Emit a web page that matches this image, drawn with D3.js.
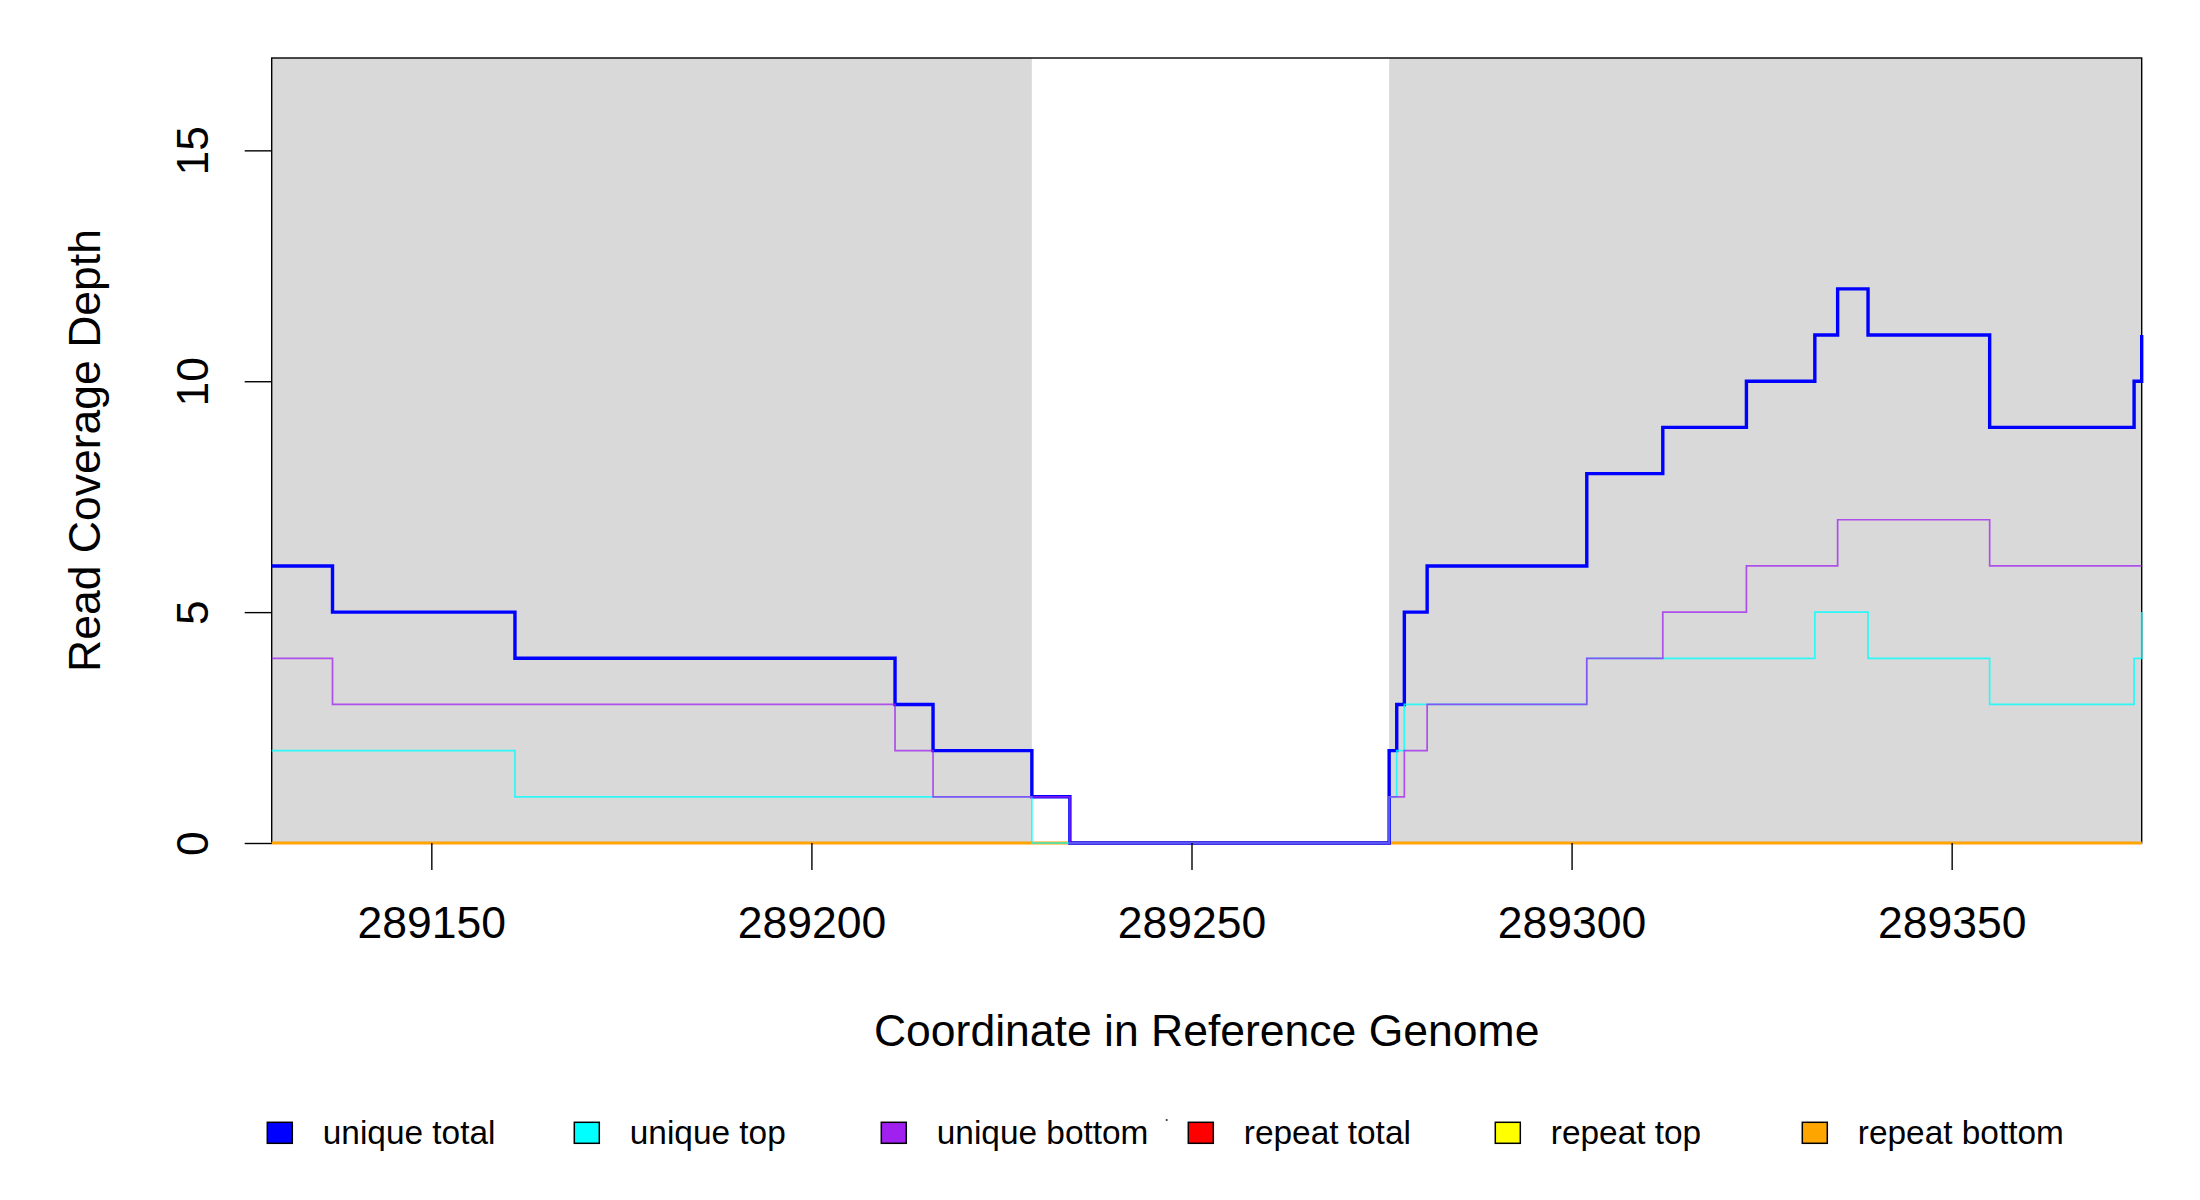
<!DOCTYPE html>
<html>
<head>
<meta charset="utf-8">
<script src="https://cdn.jsdelivr.net/npm/d3@7/dist/d3.min.js"></script>
<style>
  html, body { margin: 0; padding: 0; background: #ffffff; }
  svg { display: block; }
  text { font-family: "Liberation Sans", Arial, Helvetica, sans-serif; fill: #000; }
</style>
</head>
<body>
<svg id="chart" width="2200" height="1200"></svg>
<script>
// ---------------- data ----------------
// change points (genome coordinate) at which the step value changes
const positions   = [289129, 289137, 289161, 289211, 289216, 289229, 289234, 289276, 289277, 289278, 289281, 289302, 289312, 289323, 289332, 289335, 289339, 289355, 289374, 289375];
const uniqueTotal = [6, 5, 4, 3, 2, 1, 0, 2, 3, 5, 6, 8, 9, 10, 11, 12, 11, 9, 10, 11];
const uniqueTop   = [2, 2, 1, 1, 1, 0, 0, 1, 2, 3, 3, 4, 4, 4, 5, 5, 4, 3, 4, 5];
const uniqueBottom= [4, 3, 3, 2, 1, 1, 0, 1, 1, 2, 3, 4, 5, 6, 6, 7, 7, 6, 6, 6];
const repeatPositions = [289129, 289375];
const repeatTotal  = [0, 0];
const repeatTop    = [0, 0];
const repeatBottom = [0, 0];
// shaded (annotated) regions
const regionStarts = [289129, 289276];
const regionEnds   = [289229, 289375];
// axes
const xDomain = [289129, 289375];
const yDomain = [0, 17];
const xTicks = [289150, 289200, 289250, 289300, 289350];
const yTicks = [0, 5, 10, 15];
const xTitle = "Coordinate in Reference Genome";
const yTitle = "Read Coverage Depth";
const legendLabels = ["unique total", "unique top", "unique bottom", "repeat total", "repeat top", "repeat bottom"];
const legendColors = ["#0000FF", "#00FFFF", "#A020F0", "#FF0000", "#FFFF00", "#FFA500"];

// ---------------- layout ----------------
const plot = { left: 271.7, right: 2141.7, top: 58, bottom: 843 };
const svg = d3.select("#chart");
const x = d3.scaleLinear().domain(xDomain).range([plot.left, plot.right]);
const y = d3.scaleLinear().domain(yDomain).range([plot.bottom, plot.top]);

// shaded regions
svg.append("g").selectAll("rect")
  .data(regionStarts.map((s, i) => ({ s, e: regionEnds[i] })))
  .join("rect")
  .attr("x", d => x(d.s))
  .attr("width", d => x(d.e) - x(d.s))
  .attr("y", y(yDomain[1]))
  .attr("height", y(yDomain[0]) - y(yDomain[1]))
  .attr("fill", "#D9D9D9");

// box
svg.append("rect")
  .attr("x", plot.left).attr("y", plot.top)
  .attr("width", plot.right - plot.left).attr("height", plot.bottom - plot.top)
  .attr("fill", "none").attr("stroke", "#000").attr("stroke-width", 1.4);

// lines
const line = d3.line().x(d => x(d[0])).y(d => y(d[1])).curve(d3.curveStepAfter);
const series = [
  { pos: repeatPositions, vals: repeatTotal,  color: "#FF0000", w: 2.4, op: 0.7 },
  { pos: repeatPositions, vals: repeatTop,    color: "#FFFF00", w: 2.4, op: 0.7 },
  { pos: repeatPositions, vals: repeatBottom, color: "#FFA500", w: 2.4, op: 0.95 },
  { pos: positions, vals: uniqueTotal,  color: "#0000FF", w: 3.4, op: 1.0 },
  { pos: positions, vals: uniqueTop,    color: "#00FFFF", w: 1.7, op: 0.8 },
  { pos: positions, vals: uniqueBottom, color: "#A020F0", w: 1.7, op: 0.75 }
];
const gLines = svg.append("g");
series.forEach(s => {
  gLines.append("path")
    .datum(s.pos.map((p, i) => [p, s.vals[i]]))
    .attr("d", line)
    .attr("fill", "none")
    .attr("stroke", s.color)
    .attr("stroke-width", s.w)
    .attr("stroke-opacity", s.op)
    .attr("stroke-linejoin", "miter")
    .attr("stroke-linecap", "butt");
});

// x axis
const xAxis = svg.append("g")
  .attr("transform", `translate(0,${plot.bottom})`)
  .call(d3.axisBottom(x).tickValues(xTicks).tickSize(27).tickFormat(d3.format("d")));
xAxis.select(".domain").remove();
xAxis.selectAll(".tick line").attr("stroke", "#000").attr("stroke-width", 1.4);
xAxis.selectAll(".tick text")
  .attr("y", 95).attr("dy", 0)
  .style("font-size", "44.5px")
  .style("font-family", '"Liberation Sans", Arial, sans-serif')
  .attr("fill", "#000");

// y axis
const yAxis = svg.append("g")
  .attr("transform", `translate(${plot.left},0)`)
  .call(d3.axisLeft(y).tickValues(yTicks).tickSize(27).tickFormat(d3.format("d")));
yAxis.select(".domain").remove();
yAxis.selectAll(".tick line").attr("stroke", "#000").attr("stroke-width", 1.4);
yAxis.selectAll(".tick text")
  .attr("x", 0).attr("y", 0).attr("dy", 0)
  .attr("text-anchor", "middle")
  .attr("transform", "translate(-63.4,0) rotate(-90)")
  .style("font-size", "44.5px")
  .style("font-family", '"Liberation Sans", Arial, sans-serif')
  .attr("fill", "#000");

// titles
svg.append("text")
  .attr("x", (plot.left + plot.right) / 2)
  .attr("y", 1046)
  .attr("text-anchor", "middle")
  .style("font-size", "44.5px")
  .text(xTitle);
svg.append("text")
  .attr("transform", `translate(100,${(plot.top + plot.bottom) / 2}) rotate(-90)`)
  .attr("text-anchor", "middle")
  .style("font-size", "44.5px")
  .text(yTitle);

// legend
const legend = svg.append("g");
const lx0 = 267.3, lstep = 307, boxTop = 1122.3;
legendLabels.forEach((lab, i) => {
  const gx = lx0 + i * lstep;
  legend.append("rect")
    .attr("x", gx).attr("y", boxTop)
    .attr("width", 25).attr("height", 21)
    .attr("fill", legendColors[i])
    .attr("stroke", "#000").attr("stroke-width", 1.5);
  legend.append("text")
    .attr("x", gx + 55.5).attr("y", 1144)
    .style("font-size", "33.4px")
    .text(lab);
});
// tiny stray mark seen between legend items
legend.append("circle").attr("cx", 1166.7).attr("cy", 1120).attr("r", 1.1).attr("fill", "#333");
</script>
</body>
</html>
